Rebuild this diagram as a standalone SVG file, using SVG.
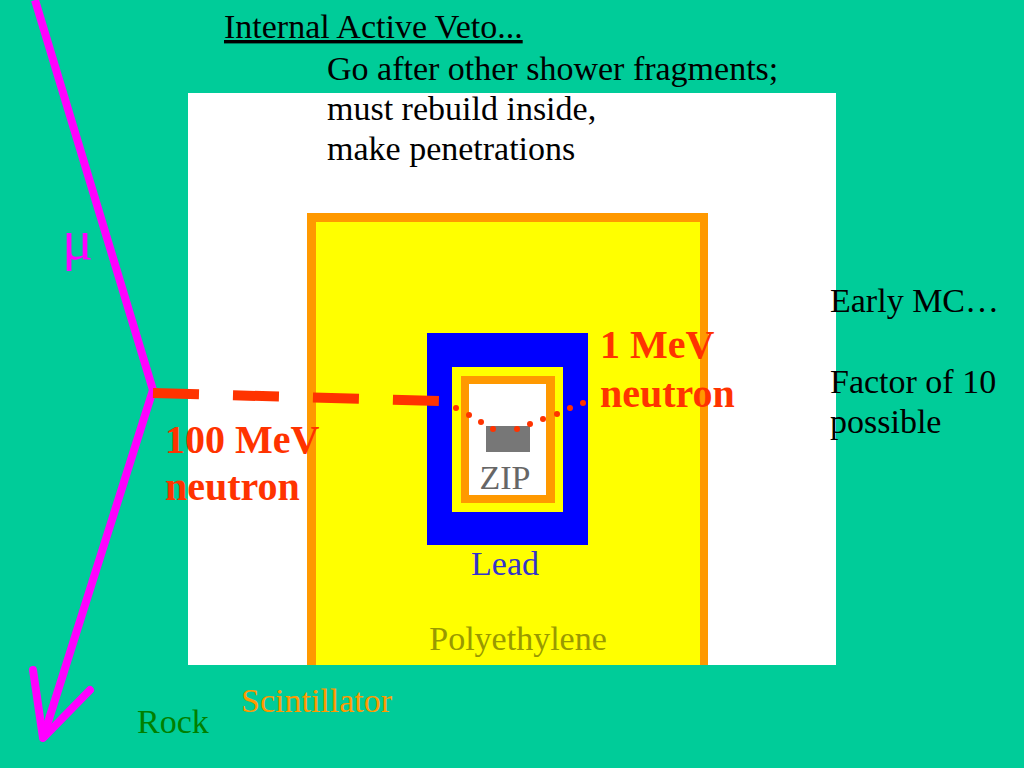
<svg xmlns="http://www.w3.org/2000/svg" width="1024" height="768" viewBox="0 0 1024 768">
<style>
.t { font-family: "Liberation Serif", "Times New Roman", serif; font-size: 34px; font-weight: normal; }
.bold { font-family: "Liberation Serif", "Times New Roman", serif; font-weight: bold; font-size: 40px; fill: #FF3300; }
.blk { font-family: "Liberation Serif", "Times New Roman", serif; font-size: 34px; fill: #000000; }
.mu { font-family: "Liberation Serif", "Times New Roman", serif; font-size: 58px; fill: #FF00FF; }
.dot { fill: #FF3300; }
</style>
<rect id="background" x="0" y="0" width="1024" height="768" fill="#00CC99"/>
<g id="cavern">
  <rect x="188" y="93" width="648" height="572" fill="#FFFFFF"/>
</g>
<g id="scintillator">
  <rect x="307" y="213" width="401" height="452" fill="#FF9900"/>
</g>
<g id="polyethylene">
  <rect x="316" y="222" width="384" height="443" fill="#FFFF00"/>
</g>
<g id="lead">
  <rect x="427" y="333" width="161" height="212" fill="#0000FF"/>
</g>
<g id="inner-poly">
  <rect x="452" y="367" width="111" height="145" fill="#FFFF00"/>
</g>
<g id="inner-veto">
  <rect x="461" y="376" width="94" height="127" fill="#FF9900"/>
  <rect x="469" y="384" width="77" height="111" fill="#FFFFFF"/>
</g>
<g id="zip">
  <rect x="486" y="426" width="44" height="26" fill="#777777"/>
  <text class="t" x="505" y="489" text-anchor="middle" fill="#666666">ZIP</text>
</g>
<g id="connectors">
  <polyline points="35,0 153,390 43,738" fill="none" stroke="#FF00FF" stroke-width="8" stroke-linejoin="miter"/>
  <polyline points="33,670 43,738 90,690" fill="none" stroke="#FF00FF" stroke-width="8" stroke-linecap="round" stroke-linejoin="round"/>
  <line x1="153" y1="393" x2="439" y2="401" stroke="#FF3300" stroke-width="10" stroke-dasharray="46 34"/>
  <g id="dots">
    <circle class="dot" cx="456" cy="408" r="3"/>
    <circle class="dot" cx="469" cy="415" r="3"/>
    <circle class="dot" cx="481" cy="422" r="3"/>
    <circle class="dot" cx="493" cy="429" r="3"/>
    <circle class="dot" cx="517" cy="429" r="3"/>
    <circle class="dot" cx="530" cy="424" r="3"/>
    <circle class="dot" cx="543" cy="419" r="3"/>
    <circle class="dot" cx="557" cy="414" r="3"/>
    <circle class="dot" cx="570" cy="408" r="3"/>
    <circle class="dot" cx="583" cy="403" r="3"/>
  </g>
</g>
<g id="labels">
  <text class="mu" x="62" y="259">μ</text>
  <text class="blk" x="224" y="38" text-decoration="underline">Internal Active Veto...</text>
  <text class="blk" x="327" y="80">Go after other shower fragments;</text>
  <text class="blk" x="327" y="120">must rebuild inside,</text>
  <text class="blk" x="327" y="160">make penetrations</text>
  <text class="blk" x="830" y="312">Early MC…</text>
  <text class="blk" x="830" y="393">Factor of 10</text>
  <text class="blk" x="830" y="433">possible</text>
  <text class="bold" x="600" y="358">1 MeV</text>
  <text class="bold" x="600" y="407">neutron</text>
  <text class="bold" x="165" y="453">100 MeV</text>
  <text class="bold" x="165" y="500">neutron</text>
  <text class="t" x="505" y="575" text-anchor="middle" fill="#3333CC">Lead</text>
  <text class="t" x="518" y="650" text-anchor="middle" fill="#999900">Polyethylene</text>
  <text class="t" x="241" y="712" fill="#FF9900">Scintillator</text>
  <text class="t" x="137" y="733" fill="#008000">Rock</text>
</g>
</svg>
